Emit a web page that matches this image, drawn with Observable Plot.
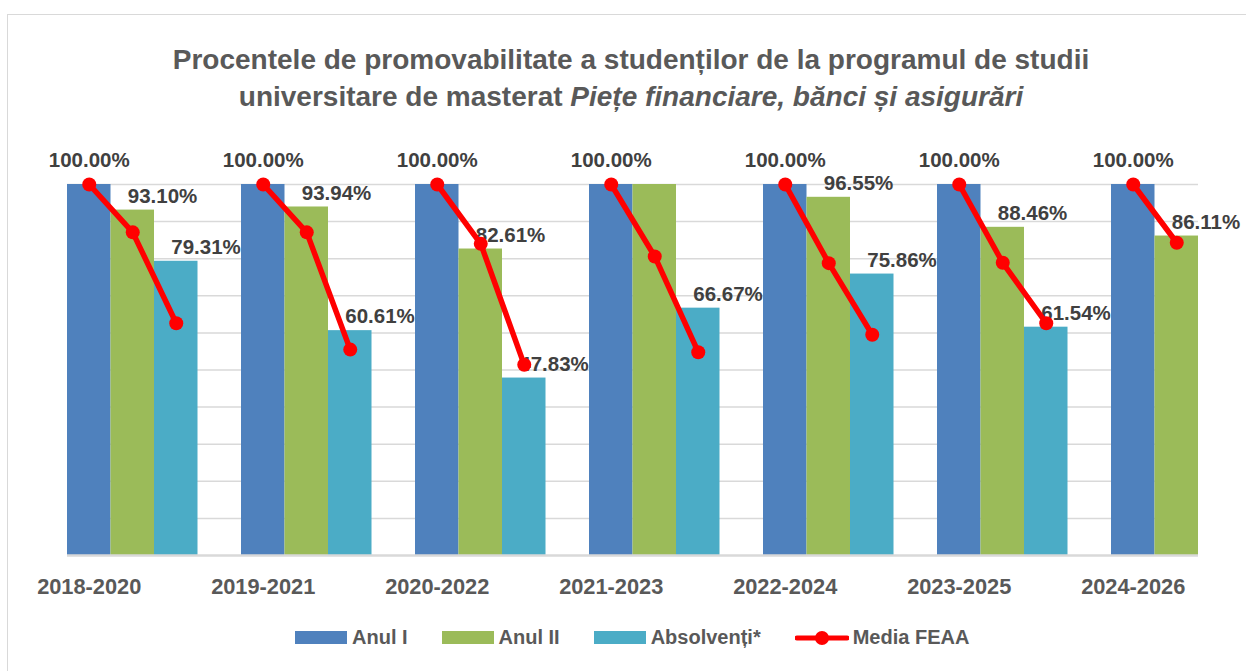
<!DOCTYPE html>
<html>
<head>
<meta charset="utf-8">
<script src="https://cdn.jsdelivr.net/npm/d3@7"></script>
<script src="https://cdn.jsdelivr.net/npm/@observablehq/plot@0.6"></script>
<style>
  html, body { margin: 0; padding: 0; background: #fff; }
  body { width: 1246px; height: 671px; position: relative; overflow: hidden; font-family: "Liberation Sans", Arial, sans-serif; }
  #frame { position: absolute; left: 7px; top: 14px; width: 1400px; height: 800px; border-left: 1.5px solid #d9d9d9; border-top: 1.5px solid #d9d9d9; }
  #title { position: absolute; left: 0; top: 41px; width: 1262px; text-align: center; font-weight: bold; font-size: 28px; line-height: 37px; color: #595959; }
  #chart { position: absolute; left: 0; top: 130px; }
  #legend { position: absolute; left: 295px; top: 626px; display: flex; align-items: center; font-weight: bold; font-size: 20px; color: #595959; white-space: nowrap; }
  .item { display: flex; align-items: center; margin-right: 34px; }
  .sw { width: 52px; height: 13px; margin-right: 5px; }
  .item svg { margin-right: 4px; }
</style>
</head>
<body>
<div id="frame"></div>
<div id="title">Procentele de promovabilitate a studenților de la programul de studii<br>universitare de masterat <i>Piețe financiare, bănci și asigurări</i></div>
<div id="chart"></div>
<div id="legend"></div>
<script>
const periods = ["2018-2020", "2019-2021", "2020-2022", "2021-2023", "2022-2024", "2023-2025", "2024-2026"];
const series = ["Anul I", "Anul II", "Absolvenți*"];
const anulI = [100, 100, 100, 100, 100, 100, 100];
const anulII = [93.10, 93.94, 82.61, 100.00, 96.55, 88.46, 86.11];
const absolventi = [79.31, 60.61, 47.83, 66.67, 75.86, 61.54, null];
const anulIILabelShown = [true, true, true, false, true, true, true];
// Media FEAA (red line), values per year of study within each period
const mediaAnulI = [100, 100, 100, 100, 100, 100, 100];
const mediaAnulII = [87.1, 87.1, 84.0, 80.6, 78.8, 78.9, 84.3];
const mediaAbsolventi = [62.6, 55.5, 51.4, 54.8, 59.5, 62.6, null];
const seriesColors = ["#4f81bd", "#9bbb59", "#4bacc6"];
const mediaColor = "#ff0000";
const mediaName = "Media FEAA";

const key = (p, s) => p + "|" + s;
const xDomain = periods.flatMap(p => [...series.map(s => key(p, s)), key(p, "gap")]);

const seriesValues = [anulI, anulII, absolventi];
const bars = [];
periods.forEach((p, i) => {
  seriesValues.forEach((arr, j) => {
    if (arr[i] != null) bars.push({period: p, series: series[j], key: key(p, series[j]), value: arr[i], idx: i});
  });
});
const mediaValues = [mediaAnulI, mediaAnulII, mediaAbsolventi];
const media = [];
periods.forEach((p, i) => {
  mediaValues.forEach((arr, j) => {
    if (arr[i] != null) media.push({period: p, key: key(p, series[j]), value: arr[i]});
  });
});
const labelsTop = bars.filter(d => d.series === series[0]);
const labelsSide = bars.filter(d => d.series !== series[0] && !(d.series === series[1] && !anulIILabelShown[d.idx]));
const axisLabels = periods.map(p => ({period: p, key: key(p, series[0])}));
const fmt = d => d.value.toFixed(2) + "%";

const bandW = 43.5;
const x0 = 67;

const chart = Plot.plot({
  width: 1246,
  height: 480,
  marginTop: 54,
  marginBottom: 55,
  marginLeft: 67,
  marginRight: 48,
  x: {type: "band", domain: xDomain, range: [x0, x0 + xDomain.length * bandW], padding: 0, round: false, axis: null},
  y: {domain: [0, 100], axis: null},
  color: {domain: series, range: seriesColors},
  style: {background: "transparent", overflow: "visible"},
  marks: [
    Plot.ruleY(d3.range(10, 101, 10), {stroke: "#d9d9d9", strokeWidth: 1.5}),
    Plot.barY(bars, {x: "key", y: "value", fill: "series"}),
    Plot.ruleY([0], {stroke: "#d9d9d9", strokeWidth: 2.5}),
    Plot.text(labelsTop, {x: "key", y: "value", text: fmt, dy: -24, fontSize: 20.5, fontWeight: "bold", fontFamily: "Liberation Sans", fill: "#404040"}),
    Plot.text(labelsSide, {x: "key", y: "value", text: fmt, dx: -5, dy: -14, textAnchor: "start", fontSize: 20.5, fontWeight: "bold", fontFamily: "Liberation Sans", fill: "#404040"}),
    Plot.line(media, {x: "key", y: "value", z: "period", stroke: mediaColor, strokeWidth: 5.5, strokeLinejoin: "round", strokeLinecap: "round"}),
    Plot.dot(media, {x: "key", y: "value", r: 7, fill: mediaColor, stroke: "none"}),
    Plot.text(axisLabels, {x: "key", y: () => 0, text: "period", dy: 32, fontSize: 21.8, fontWeight: "bold", fontFamily: "Liberation Sans", fill: "#595959"})
  ]
});
document.getElementById("chart").appendChild(chart);

// Legend
const legend = document.getElementById("legend");
series.forEach((s, i) => {
  const it = document.createElement("div");
  it.className = "item";
  const sw = document.createElement("div");
  sw.className = "sw";
  sw.style.background = seriesColors[i];
  it.appendChild(sw);
  it.appendChild(document.createTextNode(s));
  legend.appendChild(it);
});
const it = document.createElement("div");
it.className = "item";
it.innerHTML = `<svg width="54" height="20"><line x1="2" y1="10" x2="52" y2="10" stroke="${mediaColor}" stroke-width="5" stroke-linecap="round"/><circle cx="27" cy="10" r="7" fill="${mediaColor}"/></svg>`;
it.appendChild(document.createTextNode(mediaName));
legend.appendChild(it);
</script>
</body>
</html>
